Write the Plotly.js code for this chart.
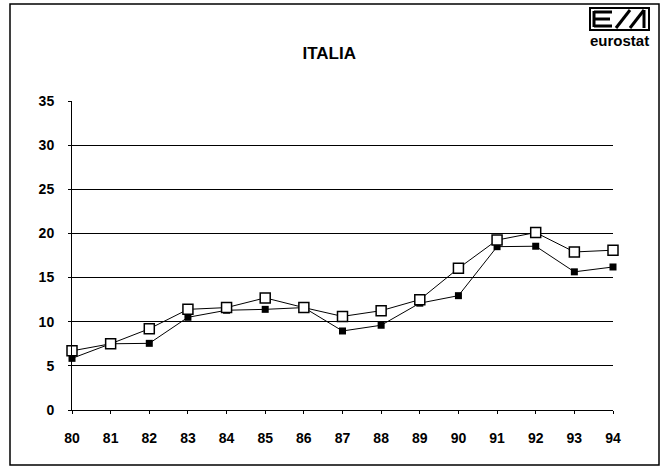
<!DOCTYPE html>
<html>
<head>
<meta charset="utf-8">
<script src="https://cdn.plot.ly/plotly-3.0.1.min.js"></script>
<style>html,body{margin:0;padding:0;background:#fff;}#chart{width:662px;height:468px;}</style>
</head>
<body>
<div id="chart"></div>
<script>
// Data
const years = [80, 81, 82, 83, 84, 85, 86, 87, 88, 89, 90, 91, 92, 93, 94];
const tickLabels = ["80", "81", "82", "83", "84", "85", "86", "87", "88", "89", "90", "91", "92", "93", "94"];
const seriesOpen = [6.7, 7.5, 9.2, 11.4, 11.6, 12.7, 11.6, 10.6, 11.25, 12.5, 16.05, 19.25, 20.1, 17.9, 18.1];
const seriesFilled = [5.85, 7.5, 7.55, 10.5, 11.3, 11.4, 11.6, 8.95, 9.6, 12.1, 12.95, 18.5, 18.55, 15.65, 16.2];
const yTicks = [0, 5, 10, 15, 20, 25, 30, 35];
const chartTitle = "ITALIA";
const logoText = "eurostat";

// Layout geometry (pixels)
const W = 662, H = 468;
const L = 72, R = 613, T = 101, B = 410;
const px = x => (x - L) / (R - L);
const py = y => (B - y) / (B - T);

const traces = [
  {
    x: years, y: seriesFilled, type: 'scatter', mode: 'lines+markers',
    line: {color: '#000', width: 1},
    marker: {symbol: 'square', size: 7, color: '#000'},
    cliponaxis: false, hoverinfo: 'skip'
  },
  {
    x: years, y: seriesOpen, type: 'scatter', mode: 'lines+markers',
    line: {color: '#000', width: 1},
    marker: {symbol: 'square', size: 10, color: '#fff', line: {color: '#000', width: 1.5}},
    cliponaxis: false, hoverinfo: 'skip'
  }
];

const shapes = [
  // outer frame
  {type: 'rect', xref: 'paper', yref: 'paper', x0: px(10), x1: px(659), y0: py(4), y1: py(465),
   line: {color: '#000', width: 1.5}},
  // logo box
  {type: 'rect', xref: 'paper', yref: 'paper', x0: px(590), x1: px(649), y0: py(8), y1: py(30),
   line: {color: '#000', width: 2}},
  // E bars
  {type: 'line', xref: 'paper', yref: 'paper', x0: px(594), x1: px(612), y0: py(12), y1: py(12), line: {color: '#000', width: 3}},
  {type: 'line', xref: 'paper', yref: 'paper', x0: px(594), x1: px(610), y0: py(19), y1: py(19), line: {color: '#000', width: 3}},
  {type: 'line', xref: 'paper', yref: 'paper', x0: px(594), x1: px(612), y0: py(26), y1: py(26), line: {color: '#000', width: 3}},
  {type: 'line', xref: 'paper', yref: 'paper', x0: px(594), x1: px(594), y0: py(11), y1: py(27), line: {color: '#000', width: 3}},
  // slashes
  {type: 'line', xref: 'paper', yref: 'paper', x0: px(616), x1: px(630), y0: py(28), y1: py(10), line: {color: '#000', width: 3}},
  {type: 'line', xref: 'paper', yref: 'paper', x0: px(630), x1: px(644), y0: py(28), y1: py(10), line: {color: '#000', width: 3}},
  {type: 'line', xref: 'paper', yref: 'paper', x0: px(644), x1: px(644), y0: py(10), y1: py(28), line: {color: '#000', width: 3}}
];

const tickFont = {size: 14, color: '#000', family: 'Liberation Sans, Arial, sans-serif', weight: 'bold'};

const layout = {
  width: W, height: H,
  margin: {l: L, r: W - R, t: T, b: H - B, pad: 0},
  paper_bgcolor: '#fff', plot_bgcolor: '#fff',
  showlegend: false,
  font: {family: 'Liberation Sans, Arial, sans-serif', color: '#000', size: 13},
  title: {text: '<b>' + chartTitle + '</b>', x: px(341), xanchor: 'center', y: 1 - 53 / H, yanchor: 'middle',
          font: {size: 17, color: '#000', family: 'Liberation Sans, Arial, sans-serif'}},
  xaxis: {
    range: [80, 94], tickvals: years, ticktext: tickLabels,
    showgrid: false, zeroline: false, showline: true, linecolor: '#000', linewidth: 1,
    ticks: 'outside', ticklen: 3, tickcolor: '#000', tickwidth: 1,
    ticklabelstandoff: 12,
    tickfont: tickFont, fixedrange: true
  },
  yaxis: {
    range: [0, 35], tickvals: yTicks,
    showgrid: true, gridcolor: '#000', gridwidth: 1,
    zeroline: false, showline: true, linecolor: '#000', linewidth: 1,
    ticks: 'outside', ticklen: 3, tickcolor: '#000', tickwidth: 1,
    ticklabelstandoff: 11,
    tickfont: tickFont, fixedrange: true
  },
  shapes: shapes,
  annotations: [
    {text: '<b>' + logoText + '</b>', xref: 'paper', yref: 'paper', x: px(619), y: py(40),
     xanchor: 'center', yanchor: 'middle', showarrow: false,
     font: {size: 15, color: '#000', family: 'Liberation Sans, Arial, sans-serif'}}
  ]
};

Plotly.newPlot('chart', traces, layout, {displayModeBar: false, staticPlot: true});
</script>
</body>
</html>
